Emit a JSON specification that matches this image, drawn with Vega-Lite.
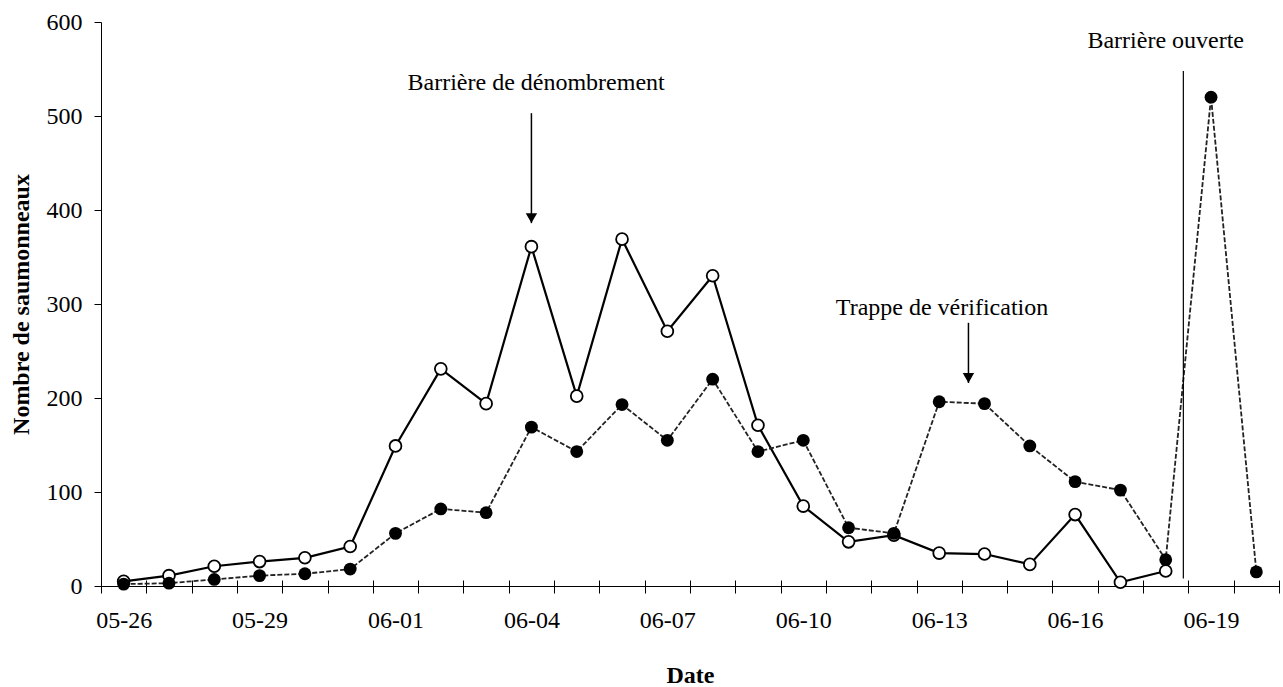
{
  "$schema": "https://vega.github.io/schema/vega-lite/v6.json",
  "width": 1178,
  "height": 564,
  "autosize": {"type": "none"},
  "padding": {"left": 101, "top": 22, "right": 4, "bottom": 101},
  "background": "white",
  "config": {
    "view": {"stroke": null},
    "font": "Liberation Serif",
    "axis": {
      "grid": false,
      "domainColor": "black",
      "domainWidth": 1,
      "tickColor": "black",
      "tickWidth": 1,
      "labelColor": "black",
      "titleColor": "black",
      "labelFont": "Liberation Serif",
      "titleFont": "Liberation Serif",
      "labelFontSize": 24,
      "titleFontSize": 24
    }
  },
  "datasets": {
    "obs": [
      {"date": "2000-05-26T00:00:00", "serie": "vide", "n": 5},
      {"date": "2000-05-27T00:00:00", "serie": "vide", "n": 11},
      {"date": "2000-05-28T00:00:00", "serie": "vide", "n": 21},
      {"date": "2000-05-29T00:00:00", "serie": "vide", "n": 26},
      {"date": "2000-05-30T00:00:00", "serie": "vide", "n": 30},
      {"date": "2000-05-31T00:00:00", "serie": "vide", "n": 42},
      {"date": "2000-06-01T00:00:00", "serie": "vide", "n": 149},
      {"date": "2000-06-02T00:00:00", "serie": "vide", "n": 231},
      {"date": "2000-06-03T00:00:00", "serie": "vide", "n": 194},
      {"date": "2000-06-04T00:00:00", "serie": "vide", "n": 361},
      {"date": "2000-06-05T00:00:00", "serie": "vide", "n": 202},
      {"date": "2000-06-06T00:00:00", "serie": "vide", "n": 369},
      {"date": "2000-06-07T00:00:00", "serie": "vide", "n": 271},
      {"date": "2000-06-08T00:00:00", "serie": "vide", "n": 330},
      {"date": "2000-06-09T00:00:00", "serie": "vide", "n": 171},
      {"date": "2000-06-10T00:00:00", "serie": "vide", "n": 85},
      {"date": "2000-06-11T00:00:00", "serie": "vide", "n": 47},
      {"date": "2000-06-12T00:00:00", "serie": "vide", "n": 54},
      {"date": "2000-06-13T00:00:00", "serie": "vide", "n": 35},
      {"date": "2000-06-14T00:00:00", "serie": "vide", "n": 34},
      {"date": "2000-06-15T00:00:00", "serie": "vide", "n": 23},
      {"date": "2000-06-16T00:00:00", "serie": "vide", "n": 76},
      {"date": "2000-06-17T00:00:00", "serie": "vide", "n": 4},
      {"date": "2000-06-18T00:00:00", "serie": "vide", "n": 16},
      {"date": "2000-05-26T00:00:00", "serie": "plein", "n": 2},
      {"date": "2000-05-27T00:00:00", "serie": "plein", "n": 3},
      {"date": "2000-05-28T00:00:00", "serie": "plein", "n": 7},
      {"date": "2000-05-29T00:00:00", "serie": "plein", "n": 11},
      {"date": "2000-05-30T00:00:00", "serie": "plein", "n": 13},
      {"date": "2000-05-31T00:00:00", "serie": "plein", "n": 18},
      {"date": "2000-06-01T00:00:00", "serie": "plein", "n": 56},
      {"date": "2000-06-02T00:00:00", "serie": "plein", "n": 82},
      {"date": "2000-06-03T00:00:00", "serie": "plein", "n": 78},
      {"date": "2000-06-04T00:00:00", "serie": "plein", "n": 169},
      {"date": "2000-06-05T00:00:00", "serie": "plein", "n": 143},
      {"date": "2000-06-06T00:00:00", "serie": "plein", "n": 193},
      {"date": "2000-06-07T00:00:00", "serie": "plein", "n": 155},
      {"date": "2000-06-08T00:00:00", "serie": "plein", "n": 220},
      {"date": "2000-06-09T00:00:00", "serie": "plein", "n": 143},
      {"date": "2000-06-10T00:00:00", "serie": "plein", "n": 155},
      {"date": "2000-06-11T00:00:00", "serie": "plein", "n": 62},
      {"date": "2000-06-12T00:00:00", "serie": "plein", "n": 56},
      {"date": "2000-06-13T00:00:00", "serie": "plein", "n": 196},
      {"date": "2000-06-14T00:00:00", "serie": "plein", "n": 194},
      {"date": "2000-06-15T00:00:00", "serie": "plein", "n": 149},
      {"date": "2000-06-16T00:00:00", "serie": "plein", "n": 111},
      {"date": "2000-06-17T00:00:00", "serie": "plein", "n": 102},
      {"date": "2000-06-18T00:00:00", "serie": "plein", "n": 28},
      {"date": "2000-06-19T00:00:00", "serie": "plein", "n": 520},
      {"date": "2000-06-20T00:00:00", "serie": "plein", "n": 15}
    ],
    "notes": [
      {"texte": "Barrière de dénombrement", "date": "2000-06-04T02:30:00", "y": 528},
      {"texte": "Trappe de vérification", "date": "2000-06-13T01:30:00", "y": 288},
      {"texte": "Barrière ouverte", "date": "2000-06-18T00:00:00", "y": 572}
    ],
    "fleches": [
      {"date": "2000-06-04T00:00:00", "haut": 503, "pointe": 386},
      {"date": "2000-06-13T15:30:00", "haut": 280, "pointe": 216}
    ],
    "barriere": [
      {"date": "2000-06-18T09:20:00", "bas": 8, "haut": 548}
    ]
  },
  "layer": [
    {
      "data": {"name": "obs"},
      "transform": [{"filter": "datum.serie == 'vide'"}],
      "mark": {"type": "line", "color": "black", "strokeWidth": 2.2},
      "encoding": {
        "x": {
          "field": "date", "type": "temporal",
          "scale": {"domain": [{"year": 2000, "month": 5, "date": 25, "hours": 12}, {"year": 2000, "month": 6, "date": 20, "hours": 12}], "nice": false},
          "title": "Date",
          "axis": {
            "orient": "bottom",
            "values": [
              {"year": 2000, "month": 5, "date": 26},
              {"year": 2000, "month": 5, "date": 29},
              {"year": 2000, "month": 6, "date": 1},
              {"year": 2000, "month": 6, "date": 4},
              {"year": 2000, "month": 6, "date": 7},
              {"year": 2000, "month": 6, "date": 10},
              {"year": 2000, "month": 6, "date": 13},
              {"year": 2000, "month": 6, "date": 16},
              {"year": 2000, "month": 6, "date": 19}
            ],
            "format": "%m-%d",
            "ticks": false,
            "tickSize": 0,
            "labelPadding": 41,
            "labelBaseline": "alphabetic",
            "labelOverlap": false,
            "labelFlush": false,
            "domain": true,
            "titleFontWeight": "bold",
            "titleY": 96,
            "titleBaseline": "alphabetic"
          }
        },
        "y": {
          "field": "n", "type": "quantitative",
          "scale": {"domain": [0, 600], "nice": false},
          "title": "Nombre de saumonneaux",
          "axis": {
            "orient": "left",
            "values": [0, 100, 200, 300, 400, 500, 600],
            "tickSize": 7,
            "labelPadding": 12,
            "labelBaseline": "middle",
            "labelFlush": false,
            "domain": true,
            "titleFontWeight": "bold",
            "titleX": -73,
            "titleY": 282,
            "titleBaseline": "alphabetic",
            "titleAngle": -90
          }
        }
      }
    },
    {
      "data": {"name": "obs"},
      "transform": [{"filter": "datum.serie == 'plein'"}],
      "mark": {"type": "line", "color": "#222222", "strokeWidth": 1.8, "strokeDash": [5, 2]},
      "encoding": {
        "x": {"field": "date", "type": "temporal", "axis": null},
        "y": {"field": "n", "type": "quantitative"}
      }
    },
    {
      "data": {"name": "obs"},
      "transform": [{"filter": "datum.serie == 'vide'"}],
      "mark": {"type": "point", "shape": "circle", "filled": true, "fill": "white", "stroke": "black", "strokeWidth": 1.8, "size": 140, "opacity": 1},
      "encoding": {
        "x": {"field": "date", "type": "temporal", "axis": null},
        "y": {"field": "n", "type": "quantitative"}
      }
    },
    {
      "data": {"name": "obs"},
      "transform": [{"filter": "datum.serie == 'plein'"}],
      "mark": {"type": "point", "shape": "circle", "filled": true, "color": "black", "size": 165, "opacity": 1},
      "encoding": {
        "x": {"field": "date", "type": "temporal", "axis": null},
        "y": {"field": "n", "type": "quantitative"}
      }
    },
    {
      "data": {"name": "barriere"},
      "mark": {"type": "rule", "color": "black", "strokeWidth": 1.2},
      "encoding": {
        "x": {
          "field": "date", "type": "temporal",
          "axis": {
            "orient": "bottom",
            "values": [
              {"year": 2000, "month": 5, "date": 25, "hours": 12},
              {"year": 2000, "month": 5, "date": 26, "hours": 12},
              {"year": 2000, "month": 5, "date": 27, "hours": 12},
              {"year": 2000, "month": 5, "date": 28, "hours": 12},
              {"year": 2000, "month": 5, "date": 29, "hours": 12},
              {"year": 2000, "month": 5, "date": 30, "hours": 12},
              {"year": 2000, "month": 5, "date": 31, "hours": 12},
              {"year": 2000, "month": 6, "date": 1, "hours": 12},
              {"year": 2000, "month": 6, "date": 2, "hours": 12},
              {"year": 2000, "month": 6, "date": 3, "hours": 12},
              {"year": 2000, "month": 6, "date": 4, "hours": 12},
              {"year": 2000, "month": 6, "date": 5, "hours": 12},
              {"year": 2000, "month": 6, "date": 6, "hours": 12},
              {"year": 2000, "month": 6, "date": 7, "hours": 12},
              {"year": 2000, "month": 6, "date": 8, "hours": 12},
              {"year": 2000, "month": 6, "date": 9, "hours": 12},
              {"year": 2000, "month": 6, "date": 10, "hours": 12},
              {"year": 2000, "month": 6, "date": 11, "hours": 12},
              {"year": 2000, "month": 6, "date": 12, "hours": 12},
              {"year": 2000, "month": 6, "date": 13, "hours": 12},
              {"year": 2000, "month": 6, "date": 14, "hours": 12},
              {"year": 2000, "month": 6, "date": 15, "hours": 12},
              {"year": 2000, "month": 6, "date": 16, "hours": 12},
              {"year": 2000, "month": 6, "date": 17, "hours": 12},
              {"year": 2000, "month": 6, "date": 18, "hours": 12},
              {"year": 2000, "month": 6, "date": 19, "hours": 12},
              {"year": 2000, "month": 6, "date": 20, "hours": 12}
            ],
            "labels": false,
            "domain": false,
            "ticks": true,
            "tickSize": 13,
            "offset": -6,
            "title": null
          }
        },
        "y": {"field": "bas", "type": "quantitative"},
        "y2": {"field": "haut"}
      }
    },
    {
      "data": {"name": "fleches"},
      "mark": {"type": "rule", "color": "black", "strokeWidth": 1.5},
      "encoding": {
        "x": {"field": "date", "type": "temporal", "axis": null},
        "y": {"field": "haut", "type": "quantitative"},
        "y2": {"field": "pointe"}
      }
    },
    {
      "data": {"name": "fleches"},
      "mark": {"type": "point", "shape": "triangle-down", "filled": true, "color": "black", "size": 130, "opacity": 1, "yOffset": -5},
      "encoding": {
        "x": {"field": "date", "type": "temporal", "axis": null},
        "y": {"field": "pointe", "type": "quantitative"}
      }
    },
    {
      "data": {"name": "notes"},
      "mark": {"type": "text", "font": "Liberation Serif", "fontSize": 24, "color": "black", "align": "center", "baseline": "alphabetic", "clip": false},
      "encoding": {
        "x": {"field": "date", "type": "temporal", "axis": null},
        "y": {"field": "y", "type": "quantitative"},
        "text": {"field": "texte"}
      }
    }
  ],
  "resolve": {"axis": {"x": "independent"}}
}
